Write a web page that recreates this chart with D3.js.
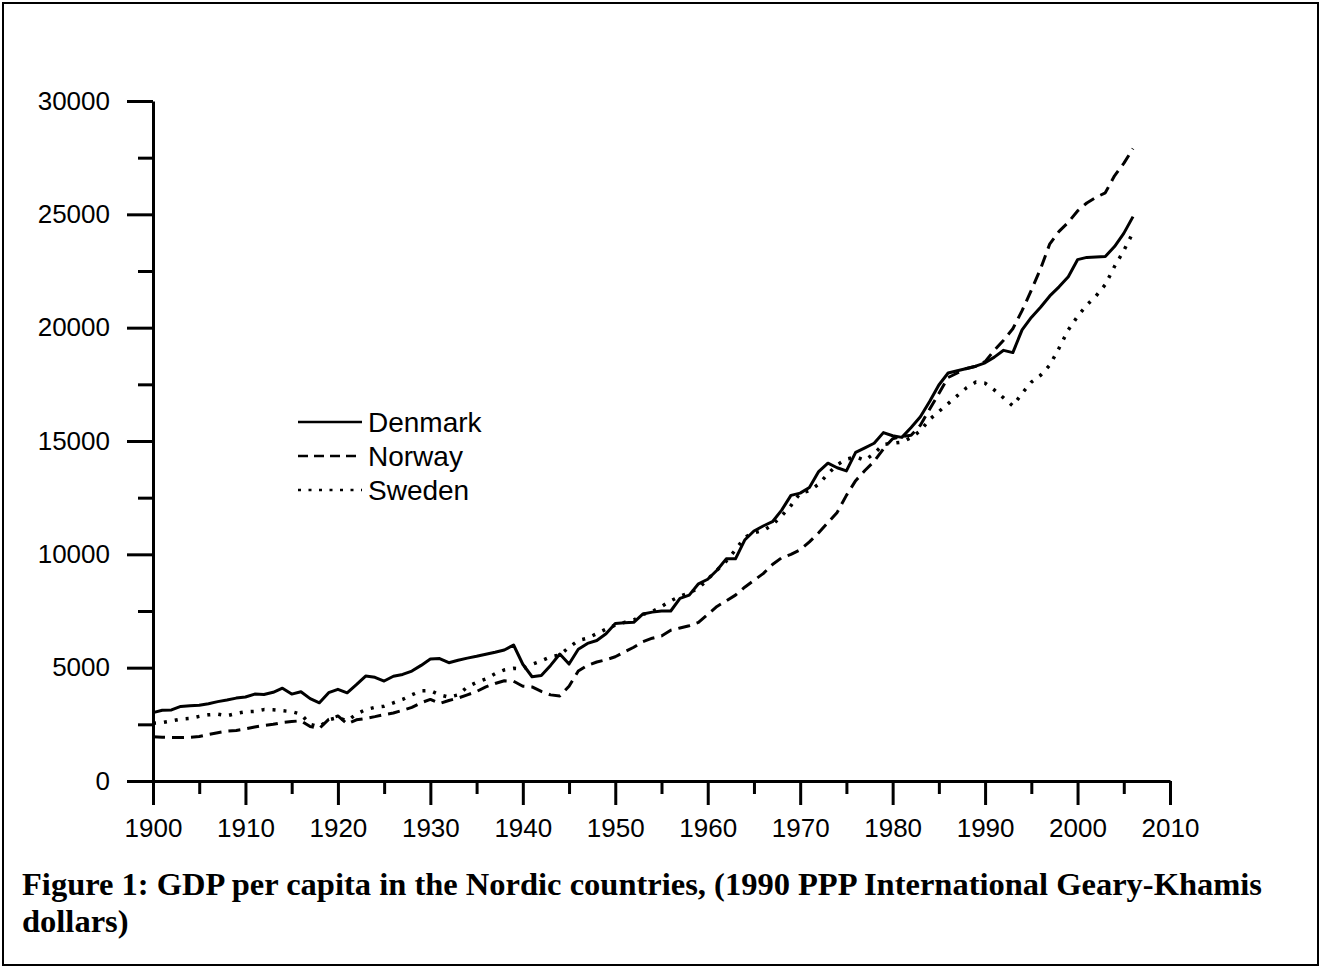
<!DOCTYPE html>
<html>
<head>
<meta charset="utf-8">
<script src="https://cdn.jsdelivr.net/npm/d3@7"></script>
<style>
  body { margin: 0; background: #fff; }
  svg { display: block; }
</style>
</head>
<body>
<div id="chart"></div>
<script>
// GDP per capita, 1990 GK$
const years = d3.range(1900, 2007);

const denmark = [
  3017, 3118, 3135, 3290, 3324, 3341, 3408, 3501, 3573, 3657,
  3705, 3834, 3815, 3912, 4094, 3834, 3940, 3635, 3450, 3895,
  4045, 3890, 4250, 4630, 4575, 4410, 4620, 4700, 4850, 5100,
  5380, 5400, 5220, 5330, 5420, 5500, 5590, 5680, 5780, 6000,
  5150, 4600, 4650, 5100, 5600, 5160, 5810, 6070, 6200, 6500,
  6950, 6980, 7000, 7370, 7450, 7500, 7500, 8060, 8200, 8700,
  8900, 9300, 9800, 9800, 10630, 11030, 11250, 11440, 11950, 12600,
  12700, 12950, 13650, 14020, 13820, 13680, 14500, 14700, 14900, 15370,
  15230, 15160, 15600, 16070, 16740, 17470, 18000, 18100, 18200, 18300,
  18450, 18700, 19000, 18900, 19900, 20450, 20900, 21400, 21800, 22250,
  23000, 23100, 23120, 23140, 23580, 24160, 24900
];

const norway = [
  1950, 1930, 1920, 1920, 1930, 1960, 2050, 2130, 2200, 2230,
  2300, 2380, 2450, 2500, 2580, 2620, 2660, 2400, 2320, 2720,
  2870, 2520, 2700, 2760, 2840, 2930, 3000, 3120, 3250, 3450,
  3600, 3420, 3550, 3660, 3800, 3950, 4150, 4300, 4420, 4400,
  4180, 4150, 3950, 3800, 3750, 4180, 4850, 5100, 5250, 5350,
  5480, 5700, 5900, 6150, 6300, 6400, 6650, 6750, 6850, 7000,
  7350, 7700, 7950, 8200, 8550, 8850, 9150, 9550, 9850, 10000,
  10200, 10550, 10950, 11400, 11850, 12600, 13250, 13700, 14100, 14650,
  15100, 15200, 15250, 15700, 16400, 17100, 17800, 18000, 18200, 18300,
  18500, 19000, 19450, 19950, 20750, 21650, 22600, 23700, 24250, 24650,
  25150, 25500, 25750, 25950, 26700, 27250, 27900
];

const sweden = [
  2550, 2580, 2650, 2730, 2760, 2850, 2920, 2950, 2880, 2980,
  3050, 3070, 3150, 3140, 3100, 3060, 2950, 2500, 2400, 2700,
  2800, 2650, 2950, 3150, 3250, 3300, 3450, 3600, 3800, 3980,
  3990, 3800, 3700, 3800, 4150, 4350, 4500, 4730, 4900, 4970,
  4950, 5150, 5300, 5480, 5560, 5900, 6200, 6300, 6500, 6700,
  6880, 7000, 7100, 7350, 7470, 7700, 7950, 8150, 8300, 8500,
  8900, 9300, 9700, 10200, 10750, 10950, 11050, 11300, 11700, 12150,
  12700, 12800, 13100, 13550, 13950, 14200, 14300, 14150, 14450, 14850,
  14900, 14950, 15150, 15450, 15950, 16300, 16650, 17000, 17350, 17600,
  17550, 17250, 16900, 16550, 17100, 17600, 17900, 18350, 19100, 19900,
  20500, 21000, 21400, 21900, 22700, 23400, 24200
];

const countries = ["Denmark", "Norway", "Sweden"];
const dashes = { "Denmark": null, "Norway": "12,7", "Sweden": "3,8" };
const xTicks = d3.range(1900, 2011, 10);
const xMinor = d3.range(1905, 2010, 10);
const yTicks = d3.range(0, 30001, 5000);
const yMinor = d3.range(2500, 30000, 5000);
const caption = [
  "Figure 1: GDP per capita in the Nordic countries, (1990 PPP International Geary-Khamis",
  "dollars)"
];

const width = 1321;
const height = 968;

const svg = d3.select("#chart").append("svg")
    .attr("width", width)
    .attr("height", height);

svg.append("rect")
    .attr("x", 3).attr("y", 3)
    .attr("width", 1315).attr("height", 962)
    .attr("fill", "#fff")
    .attr("stroke", "#000")
    .attr("stroke-width", 2);

const x = d3.scaleLinear().domain([1900, 2010]).range([153, 1170]);
const y = d3.scaleLinear().domain([0, 30000]).range([781, 101]);

const font = "'Liberation Sans', Arial, sans-serif";

// Axes
const gy = svg.append("g").attr("transform", "translate(153,0)");
gy.call(d3.axisLeft(y).tickValues(yTicks).tickSize(26).tickSizeOuter(0).tickPadding(17).tickFormat(d3.format("d")));
gy.append("g").call(d3.axisLeft(y).tickValues(yMinor).tickSize(15).tickFormat(""))
  .select(".domain").remove();

const gx = svg.append("g").attr("transform", "translate(0,781)");
gx.call(d3.axisBottom(x).tickValues(xTicks).tickSize(24).tickSizeOuter(0).tickPadding(14).tickFormat(d3.format("d")));
gx.append("g").call(d3.axisBottom(x).tickValues(xMinor).tickSize(13).tickFormat(""))
  .select(".domain").remove();

svg.selectAll(".domain, .tick line")
    .attr("stroke", "#000")
    .attr("stroke-width", 3);
svg.selectAll(".tick text")
    .attr("fill", "#000")
    .attr("font-family", font)
    .attr("font-size", 26);

// Lines
const series = {
  "Denmark": denmark,
  "Norway": norway,
  "Sweden": sweden
};

const line = d3.line()
    .x((d, i) => x(years[i]))
    .y(d => y(d));

svg.append("g")
  .selectAll("path")
  .data(countries)
  .join("path")
    .attr("d", c => line(series[c]))
    .attr("fill", "none")
    .attr("stroke", "#000")
    .attr("stroke-width", c => c == "Sweden" ? 3.5 : 3)
    .attr("stroke-linejoin", "round")
    .attr("stroke-dasharray", c => dashes[c]);

// Legend
const legend = svg.append("g")
  .selectAll("g")
  .data(countries)
  .join("g")
    .attr("transform", (c, i) => `translate(298,${422 + i * 34})`);

legend.append("line")
    .attr("x1", 0).attr("x2", 64)
    .attr("stroke", "#000")
    .attr("stroke-width", 2.5)
    .attr("stroke-dasharray", c => c == "Norway" ? "10,6" : c == "Sweden" ? "3,7.5" : null);

legend.append("text")
    .attr("x", 70)
    .attr("dy", "0.35em")
    .attr("font-family", font)
    .attr("font-size", 28)
    .attr("fill", "#000")
    .text(c => c);

// Caption
svg.append("g")
  .selectAll("text")
  .data(caption)
  .join("text")
    .attr("x", 22)
    .attr("y", (d, i) => 895 + i * 37)
    .attr("font-family", "'Liberation Serif', 'Times New Roman', serif")
    .attr("font-weight", "bold")
    .attr("font-size", 32.5)
    .attr("fill", "#000")
    .text(d => d);
</script>
</body>
</html>
